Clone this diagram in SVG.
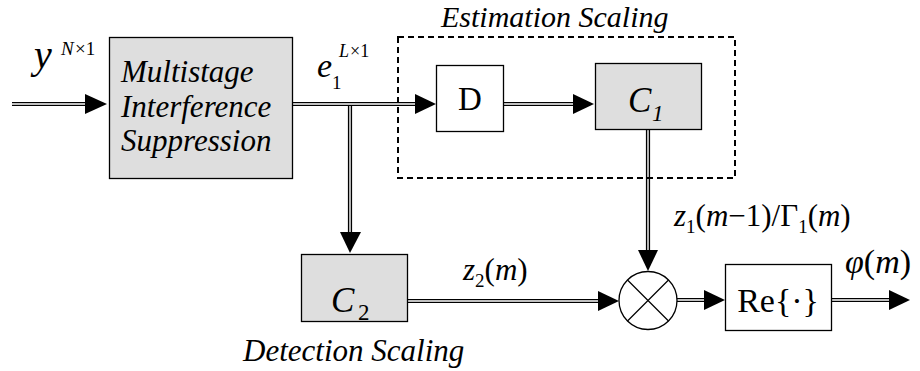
<svg xmlns="http://www.w3.org/2000/svg" width="920" height="371" viewBox="0 0 920 371">
<style>
.t{font-family:"Liberation Serif","Times New Roman",serif;fill:#000}
.i{font-style:italic}
.box{fill:#fff;stroke:#000;stroke-width:1.3}
.gbox{fill:#dedede;stroke:#000;stroke-width:1.3}
.lo{stroke:#000;stroke-width:4.2;fill:none}
.li{stroke:#fff;stroke-width:1.4;fill:none}
.ah{fill:#000}
</style>
<rect width="920" height="371" fill="#fff"/>
<g id="connectors">
<path class="lo" d="M12 104H86M293 104H416M504 104H574M350 104V233M408 301H599M648 130V251M677 300H705M832 300H890"/>
<path class="li" d="M12 104H86M293 104H416M504 104H574M350 106V233M408 301H599M648 130V251M677 300H705M832 300H890"/>
<polygon class="ah" points="85,94 107,104 85,114"/>
<polygon class="ah" points="415,94 436,104 415,114"/>
<polygon class="ah" points="573,94 594,104 573,114"/>
<polygon class="ah" points="340,232 350,253 361,232"/>
<polygon class="ah" points="598,291 619,301 598,311"/>
<polygon class="ah" points="638,250 648,271 658,250"/>
<polygon class="ah" points="704,290 725,300 704,310"/>
<polygon class="ah" points="889,290 910,300 889,310"/>
</g>
<g id="input-label">
<text class="t i" x="34" y="68" font-size="40">y</text>
<text class="t i" x="61" y="55" font-size="19">N</text>
<text class="t" x="75" y="55" font-size="19">×1</text>
</g>
<g id="mis">
<rect class="gbox" x="109.5" y="37.5" width="183" height="141"/>
<text class="t i" x="121" y="82" font-size="31">Multistage</text>
<text class="t i" x="121" y="117" font-size="31">Interference</text>
<text class="t i" x="121" y="151" font-size="31">Suppression</text>
</g>
<g id="e-label">
<text class="t i" x="317" y="77" font-size="34">e</text>
<text class="t" x="332" y="89" font-size="19">1</text>
<text class="t i" x="339" y="57" font-size="18">L</text>
<text class="t" x="350" y="57" font-size="18">×1</text>
</g>
<g id="estimation-scaling">
<rect x="398" y="37" width="337" height="141" fill="none" stroke="#000" stroke-width="2" stroke-dasharray="6,4"/>
<text class="t i" x="441" y="27" font-size="30">Estimation Scaling</text>
</g>
<g id="D">
<rect class="box" x="436.5" y="65.5" width="67" height="66"/>
<text class="t" x="470" y="110" font-size="33" text-anchor="middle">D</text>
</g>
<g id="C1">
<rect class="gbox" x="595.5" y="63.5" width="106" height="66"/>
<text class="t i" x="628" y="112" font-size="35">C</text>
<text class="t i" x="652" y="121" font-size="23">1</text>
</g>
<g id="C2">
<rect class="gbox" x="301.5" y="254.5" width="106" height="67"/>
<text class="t i" x="331" y="312" font-size="35">C</text>
<text class="t" x="358" y="320" font-size="23">2</text>
<text class="t i" x="243" y="361" font-size="31">Detection Scaling</text>
</g>
<g id="z2-label">
<text class="t" x="463" y="280" font-size="31"><tspan class="i">z</tspan><tspan font-size="19" dy="7">2</tspan><tspan dy="-7">(</tspan><tspan class="i">m</tspan>)</text>
</g>
<g id="z1-label">
<text class="t" x="674" y="226" font-size="31"><tspan class="i">z</tspan><tspan font-size="19" dy="7">1</tspan><tspan dy="-7">(</tspan><tspan class="i">m</tspan>−1)/Γ<tspan font-size="19" dy="7">1</tspan><tspan dy="-7">(</tspan><tspan class="i">m</tspan>)</text>
</g>
<g id="multiplier">
<circle cx="648" cy="300.5" r="29" fill="#fff" stroke="#000" stroke-width="1.3"/>
<path d="M627.5 280L668.5 321M668.5 280L627.5 321" stroke="#000" stroke-width="1.2"/>
</g>
<g id="Re">
<rect class="box" x="725.5" y="264.5" width="106" height="66"/>
<text class="t" x="778" y="312" font-size="34" text-anchor="middle">Re{·}</text>
</g>
<g id="phi-label">
<text class="t" x="845" y="273" font-size="34"><tspan class="i">φ</tspan>(<tspan class="i">m</tspan>)</text>
</g>
</svg>
